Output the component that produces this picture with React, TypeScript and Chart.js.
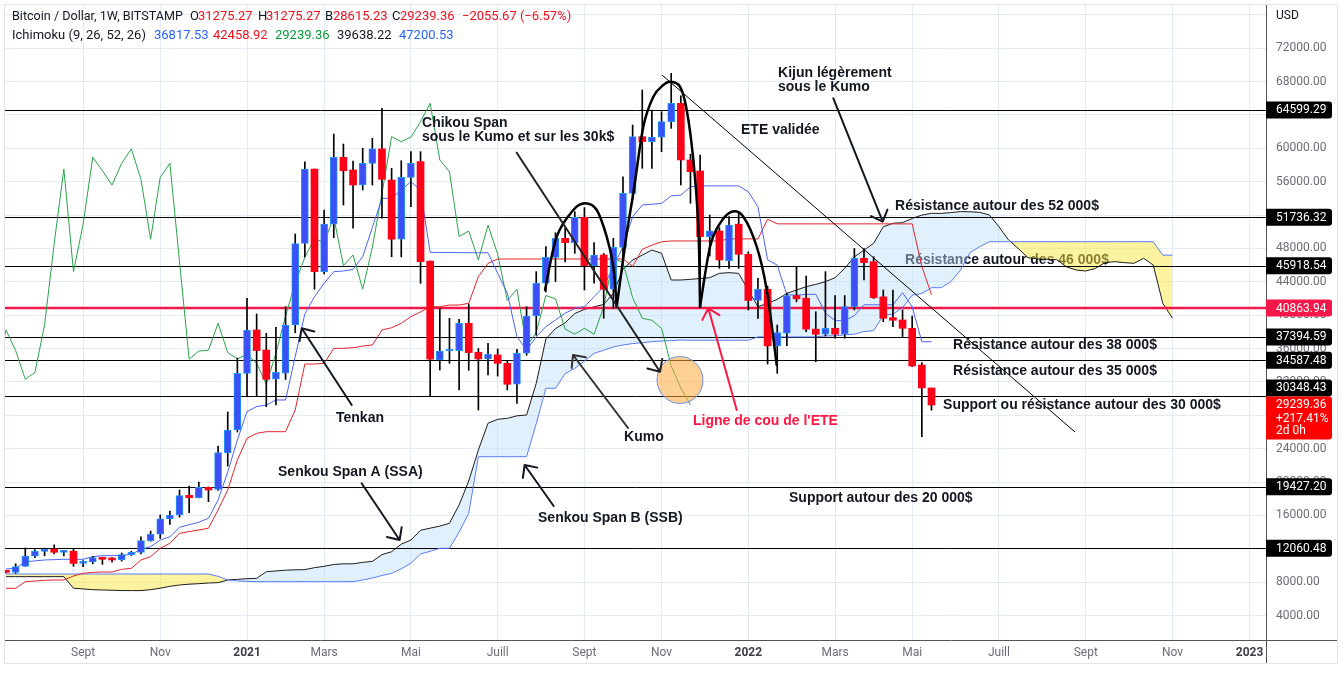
import React, { useEffect, useRef } from "react";
import { Chart, registerables } from "chart.js";

Chart.register(...registerables);

// ---- Weekly BTC/USD candles (Bitstamp), week index 0 = 13 Jul 2020 ----
const opens = [
  9300, 9180, 9900, 11130, 11700, 11980, 11580, 11710, 10250, 10420,
  10950, 10740, 10660, 11300, 11580, 12980, 13740, 15580, 16050, 18410,
  18130, 19370, 19130, 23490, 26240, 33030, 38230, 35830, 32320, 33040,
  38830, 48600, 57530, 45220, 50910, 58930, 57410, 55610, 58210, 59940,
  56210, 49110, 56530, 58410, 46500, 34630, 35710, 35750, 39030, 35560,
  34760, 35240, 34230, 31720, 35440, 39910, 43830, 46940, 49220, 48700,
  51740, 45950, 47220, 43110, 48140, 54610, 61400, 60800, 61340, 63200,
  65400, 58610, 57290, 49420, 50100, 46540, 50910, 47300, 41760, 43110,
  36320, 37840, 42360, 42040, 38330, 37720, 38430, 37720, 41020, 46820,
  46420, 42200, 39710, 39430, 38430, 34030, 31275.27,
];
const highs = [
  9350, 10200, 12100, 11900, 12080, 12470, 11800, 12050, 10600, 11100,
  11000, 10950, 11500, 11700, 13420, 14130, 16050, 16530, 19050, 19530,
  20000, 19420, 24300, 28400, 34870, 42030, 40150, 37830, 38550, 41020,
  49740, 58400, 57530, 52610, 61720, 60520, 58490, 60010, 61210, 64800,
  57600, 58520, 59600, 59600, 46500, 40820, 39630, 39510, 41340, 36000,
  36640, 35950, 34600, 35900, 41020, 45220, 48220, 49890, 50500, 52410,
  52900, 48700, 47400, 49220, 56600, 62800, 67000, 64600, 64400, 69000,
  66300, 59300, 59200, 52010, 50500, 51810, 52410, 47600, 44420, 43500,
  38830, 42640, 45740, 44700, 40420, 45220, 42360, 42360, 48000, 48000,
  47010, 43020, 43020, 40630, 39900, 34310, 31275.27,
];
const lows = [
  9100, 9050, 9900, 10950, 11150, 11400, 11150, 9900, 9850, 10200,
  10140, 10400, 10530, 11200, 11380, 12900, 13250, 14930, 15800, 16330,
  18100, 17650, 19000, 21925, 26000, 30350, 30320, 29030, 29240, 32300,
  37900, 47000, 43120, 44950, 49300, 53210, 50420, 55010, 55610, 51620,
  47010, 47000, 53010, 43820, 30230, 33430, 34230, 31040, 33400, 28640,
  32840, 32700, 31040, 29440, 35200, 37600, 42800, 44030, 46380, 47420,
  43020, 43830, 39630, 40820, 46900, 53900, 57610, 57610, 59600, 62400,
  55610, 53420, 42000, 47100, 45620, 45600, 45620, 40630, 39630, 34150,
  33030, 36360, 41600, 38030, 34430, 37500, 37240, 37240, 40630, 44220,
  42000, 39230, 38630, 37440, 33830, 25440, 28615.23,
];
const closes = [
  9180, 9860, 11130, 11700, 11980, 11580, 11710, 10250, 10420, 10950,
  10740, 10660, 11300, 11580, 12980, 13740, 15580, 16050, 18370, 18130,
  19370, 19050, 23530, 26240, 33030, 38230, 35760, 32320, 33150, 38830,
  48600, 57530, 45220, 50910, 58930, 57320, 55610, 58210, 59940, 56290,
  49110, 56530, 58210, 46420, 34720, 35710, 35800, 39030, 35520, 34760,
  35320, 34230, 31720, 35440, 39910, 43830, 46940, 49220, 48700, 51740,
  45950, 47220, 43110, 48140, 54610, 61400, 60800, 61340, 63200, 65400,
  58610, 57200, 49420, 50100, 46620, 50810, 47300, 41760, 43110, 36320,
  37920, 42360, 41960, 38330, 37720, 38430, 37720, 41020, 46820, 46300,
  42100, 39630, 39390, 38430, 33910, 31280, 29239.36,
];

// ---- Ichimoku (9, 26, 52, 26) ----
const tenkan = [
  9580, 9660, 10450, 10550, 10660, 10700, 10740, 10740, 10740, 11060,
  11180, 11180, 11200, 11330, 11940, 12250, 13050, 13450, 14580, 14890,
  15180, 15660, 17850, 21210, 25040, 28460, 29040, 29240, 29840, 29840,
  35030, 40150, 42220, 43830, 45220, 45300, 45500, 47010, 50500, 54010,
  54010, 55010, 56000, 55010, 47540, 47520, 47520, 47500, 47490, 47490,
  47490, 45020, 42640, 37430, 35830, 37430, 38630, 39430, 40230, 40830,
  41020, 42220, 43420, 45810, 48210, 51810, 53210, 53300, 53400, 54300,
  54400, 55400, 55500, 55500, 55500, 55500, 55500, 54800, 53000, 46650,
  46000, 42450, 42400, 42500, 42500, 40250, 39350, 39350, 39950, 41250,
  41250, 41250, 41250, 42700, 41000, 36820, 36817.53,
];
const kijun = [
  7265, 7265, 8060, 8140, 8220, 8260, 8260, 8740, 9060, 9180,
  9220, 9220, 9540, 9660, 10660, 11060, 12060, 12660, 13860, 14060,
  14260, 14460, 16650, 19050, 22650, 25240, 25840, 26040, 26040, 26040,
  28640, 34150, 34150, 34230, 36030, 36030, 36100, 36300, 36430, 38230,
  38500, 39030, 39830, 40400, 41020, 41020, 41220, 41220, 41420, 44620,
  46220, 46740, 46740, 46740, 46740, 46740, 46740, 46740, 46740, 46740,
  46740, 46740, 46740, 46740, 46740, 45850, 47900, 48400, 48800, 48900,
  48900, 48900, 48900, 48900, 48900, 49150, 49150, 49150, 49150, 51500,
  50950, 50950, 50950, 50950, 50950, 50950, 50950, 50950, 50950, 50950,
  50950, 50950, 50950, 50950, 50950, 45850, 42458.92,
];
const senkouA = [
  8660, 8660, 8660, 8660, 8660, 8660, 8660, 7275, 7190, 7100,
  7060, 7030, 7000, 6990, 6990, 7100, 7275, 7500, 7660, 7760,
  7820, 7900, 7940, 8260, 8340, 8420, 8460, 9255, 9345, 9440,
  9480, 9500, 9740, 9900, 10120, 10200, 10200, 10370, 10495, 11300,
  11655, 12555, 13055, 14220, 14475, 14720, 15060, 17250, 20130, 23850,
  27050, 27520, 27640, 27940, 28040, 31830, 37150, 38400, 39100, 40200,
  40700, 41000, 41300, 42620, 45500, 46620, 47200, 47820, 47420, 44220,
  44220, 44300, 44400, 44500, 45020, 45100, 45020, 43000, 41020, 41420,
  41900, 42620, 43020, 43420, 43700, 44020, 44500, 45620, 47000, 47800,
  48620, 50600, 51020, 51100, 51600, 52000, 52220, 52200, 52300, 52420,
  52400, 52325, 52020, 50610, 49016, 48000, 46900, 46750, 46700, 46650,
  45800, 45420, 45300, 45600, 46300, 46420, 46300, 46220, 46820, 46020,
  41400, 39638.22,
];
const senkouB = [
  8980, 8980, 8980, 8980, 8980, 8980, 8980, 8980, 8980, 8980,
  8980, 8980, 8980, 8980, 8980, 8980, 8980, 8980, 8980, 8980,
  8980, 8980, 8700, 8260, 8150, 8100, 8060, 8060, 8060, 8060,
  8060, 8060, 8060, 8060, 8060, 8060, 8060, 8260, 8500, 8800,
  9060, 9600, 10260, 11375, 11700, 12060, 12060, 14000, 16260, 23040,
  23040, 23040, 23040, 23040, 23040, 27000, 31240, 31240, 33000, 33640,
  34500, 35440, 35800, 36200, 36430, 36600, 36700, 36830, 36900, 36950,
  37030, 37000, 37000, 37000, 37000, 37000, 37000, 37000, 37400, 37400,
  37400, 37400, 37400, 37400, 37400, 37520, 37520, 37650, 37720, 38050,
  38140, 39975, 40125, 40900, 42400, 42600, 43300, 43300, 44000, 45400,
  47500, 48210, 48810, 48810, 48810, 48810, 48810, 48810, 48810, 48810,
  48810, 48810, 48810, 48810, 48810, 48810, 48810, 48810, 48810, 48810,
  47200, 47200,
];
const chikouShift = 25;

// ---- axes ----
const monthTicks = [8, 16, 25, 33, 42, 51, 60, 68, 77, 86, 94, 103, 112, 121, 129];
const monthLabels = ["Sept", "Nov", "2021", "Mars", "Mai", "Juill", "Sept", "Nov", "2022", "Mars", "Mai", "Juill", "Sept", "Nov", "2023"];
const yearLabels = ["2021", "2022", "2023"];
const priceTicks = [4000, 8000, 12000, 16000, 20000, 24000, 28000, 32000, 36000, 40000, 44000, 48000, 52000, 56000, 60000, 64000, 68000, 72000, 76000];

// ---- drawn levels ----
const levels = [64599.29, 51736.32, 45918.54, 37394.59, 34587.48, 30348.43, 19427.2, 12060.48];
const neckLevel = 40863.94;
const lastClose = 29239.36;

// maps a point of the reference picture to (week index, price)
const R = (x: number, y: number): [number, number] => [(x - 6) / 9.64, 64599.29 + (110 - y) * 119.87];

const notes: { t: string; at: [number, number]; c?: string }[] = [
  { t: "Chikou Span", at: R(422, 123) },
  { t: "sous le Kumo et sur les 30k$", at: R(422, 137.5) },
  { t: "Kijun légèrement", at: R(778, 73) },
  { t: "sous le Kumo", at: R(778, 87) },
  { t: "ETE validée", at: R(741, 130) },
  { t: "Résistance autour des 52 000$", at: R(895, 206) },
  { t: "Résistance autour des 38 000$", at: R(953, 345) },
  { t: "Résistance autour des 35 000$", at: R(953, 371) },
  { t: "Support ou résistance autour des 30 000$", at: R(943, 405) },
  { t: "Support autour des 20 000$", at: R(789, 498) },
  { t: "Tenkan", at: R(336, 418) },
  { t: "Kumo", at: R(624, 437) },
  { t: "Ligne de cou de l'ETE", at: R(693, 421), c: "#ff1744" },
  { t: "Senkou Span A (SSA)", at: R(278, 472) },
  { t: "Senkou Span B (SSB)", at: R(538, 518) },
];
const underNote = { t: "Résistance autour des 46 000$", at: R(905, 260) };

const arrows: { a: [number, number]; b: [number, number]; c: string }[] = [
  { a: R(351.7, 405), b: R(301.7, 328.3), c: "#131722" },
  { a: R(516.7, 152.7), b: R(660, 371.7), c: "#222222" },
  { a: R(628, 428), b: R(573, 355), c: "#333333" },
  { a: R(736.7, 410), b: R(708.3, 308.3), c: "#ff1744" },
  { a: R(833.3, 98.3), b: R(882.7, 221.7), c: "#131722" },
  { a: R(361.6, 483.3), b: R(399.6, 540), c: "#131722" },
  { a: R(553.6, 506), b: R(524.6, 465), c: "#131722" },
];
const trend = [R(662, 75), R(1075, 432)];
const ellipseCenter = R(680, 380);
const eteParts = [
  [R(545, 290), R(556.7, 236.7), R(573.3, 210), R(585, 203.3), R(596.7, 210), R(606.7, 236.7), R(613.3, 266.7), R(616.7, 306.7)],
  [R(616.7, 306.7), R(626.7, 233.3), R(633.3, 193.3), R(643.3, 126.7), R(653.3, 96.7), R(663.3, 85), R(670, 81.7), R(680, 86.7), R(686.7, 110), R(693.3, 160), R(698.3, 226.7), R(700, 306.7)],
  [R(700, 306.7), R(710, 246.7), R(720, 223.3), R(731.7, 211.7), R(743.3, 216.7), R(756.7, 246.7), R(766.7, 290), R(776.7, 365)],
];

const header1: [string, string, number][] = [
  ["Bitcoin / Dollar, 1W, BITSTAMP", "#131722", 12],
  ["O", "#131722", 190], ["31275.27", "#f0101e", 198],
  ["H", "#131722", 258], ["31275.27", "#f0101e", 266],
  ["B", "#131722", 325], ["28615.23", "#f0101e", 333],
  ["C", "#131722", 392], ["29239.36", "#f0101e", 400],
  ["\u22122055.67 (\u22126.57%)", "#f0101e", 462],
];
const header2: [string, string, number][] = [
  ["Ichimoku (9, 26, 52, 26)", "#131722", 12],
  ["36817.53", "#2962ff", 154], ["42458.92", "#f0101e", 213],
  ["29239.36", "#089b3a", 275], ["39638.22", "#131722", 337],
  ["47200.53", "#2962ff", 399],
];

const FONT = "Roboto, 'Noto Sans', sans-serif";
const NOTE_FONT = "bold 14px 'Liberation Sans', Arial, sans-serif";

function smoothPath(ctx: CanvasRenderingContext2D, p: number[][]) {
  ctx.moveTo(p[0][0], p[0][1]);
  for (let i = 0; i < p.length - 1; i++) {
    const p0 = p[Math.max(i - 1, 0)], p1 = p[i], p2 = p[i + 1], p3 = p[Math.min(i + 2, p.length - 1)];
    ctx.bezierCurveTo(
      p1[0] + (p2[0] - p0[0]) / 6, p1[1] + (p2[1] - p0[1]) / 6,
      p2[0] - (p3[0] - p1[0]) / 6, p2[1] - (p3[1] - p1[1]) / 6,
      p2[0], p2[1]
    );
  }
}

function fitText(ctx: CanvasRenderingContext2D, text: string, size: number, maxW: number) {
  ctx.font = `${size}px ${FONT}`;
  const w = ctx.measureText(text).width;
  if (w > maxW) ctx.font = `${(size * maxW) / w}px ${FONT}`;
}

const decoPlugin = {
  id: "deco",
  beforeDatasetsDraw(chart: any) {
    const ctx = chart.ctx, xs = chart.scales.x, ys = chart.scales.y;
    ctx.save();
    ctx.font = NOTE_FONT;
    ctx.fillStyle = "#131722";
    ctx.textBaseline = "middle";
    ctx.fillText(underNote.t, xs.getPixelForValue(underNote.at[0]), ys.getPixelForValue(underNote.at[1]));
    ctx.restore();
  },
  afterDatasetDraw(chart: any, args: any) {
    if (args.index !== 0) return;
    const ctx = chart.ctx, ys = chart.scales.y, area = chart.chartArea;
    ctx.save();
    ctx.strokeStyle = "#000";
    ctx.lineWidth = 1;
    levels.forEach((v) => {
      const y = Math.round(ys.getPixelForValue(v)) + 0.5;
      ctx.beginPath(); ctx.moveTo(area.left, y); ctx.lineTo(area.right, y); ctx.stroke();
    });
    ctx.strokeStyle = "#f5174a";
    ctx.lineWidth = 2.5;
    const yr = ys.getPixelForValue(neckLevel);
    ctx.beginPath(); ctx.moveTo(area.left, yr); ctx.lineTo(area.right, yr); ctx.stroke();
    ctx.restore();
  },
  afterDatasetsDraw(chart: any) {
    const ctx = chart.ctx, xs = chart.scales.x, ys = chart.scales.y;
    const P = (d: [number, number]) => [xs.getPixelForValue(d[0]), ys.getPixelForValue(d[1])];
    ctx.save();
    const t0 = P(trend[0]), t1 = P(trend[1]);
    ctx.strokeStyle = "#000"; ctx.lineWidth = 1;
    ctx.beginPath(); ctx.moveTo(t0[0], t0[1]); ctx.lineTo(t1[0], t1[1]); ctx.stroke();
    ctx.strokeStyle = "#000"; ctx.lineWidth = 2.5; ctx.lineJoin = "round"; ctx.lineCap = "round";
    eteParts.forEach((part) => {
      ctx.beginPath(); smoothPath(ctx, part.map(P)); ctx.stroke();
    });
    const ec = P(ellipseCenter);
    ctx.beginPath(); ctx.ellipse(ec[0], ec[1], 23, 23.5, -0.25, 0, Math.PI * 2);
    ctx.fillStyle = "rgba(255,170,60,0.55)"; ctx.fill();
    ctx.strokeStyle = "#6d8ee6"; ctx.lineWidth = 1; ctx.stroke();
    arrows.forEach((ar) => {
      const a = P(ar.a), b = P(ar.b);
      const ang = Math.atan2(b[1] - a[1], b[0] - a[0]);
      const h = 13, spread = 0.75;
      ctx.strokeStyle = ar.c; ctx.lineWidth = 2;
      ctx.beginPath(); ctx.moveTo(a[0], a[1]); ctx.lineTo(b[0], b[1]);
      ctx.moveTo(b[0] - h * Math.cos(ang - spread), b[1] - h * Math.sin(ang - spread));
      ctx.lineTo(b[0], b[1]);
      ctx.lineTo(b[0] - h * Math.cos(ang + spread), b[1] - h * Math.sin(ang + spread));
      ctx.stroke();
    });
    ctx.font = NOTE_FONT;
    ctx.textBaseline = "middle";
    notes.forEach((n) => {
      const p = P(n.at);
      ctx.fillStyle = n.c || "#131722";
      ctx.fillText(n.t, p[0], p[1]);
    });
    ctx.restore();
  },
  afterDraw(chart: any) {
    const ctx = chart.ctx, ys = chart.scales.y, area = chart.chartArea;
    ctx.save();
    ctx.strokeStyle = "#e0e3eb"; ctx.lineWidth = 1;
    ctx.strokeRect(4.5, 4.5, 1333, 659);
    ctx.strokeStyle = "#50535e";
    ctx.beginPath(); ctx.moveTo(area.right + 0.5, area.bottom); ctx.lineTo(area.right + 0.5, 663); ctx.stroke();
    ctx.beginPath(); ctx.moveTo(area.right, area.bottom + 0.5); ctx.lineTo(1337, area.bottom + 0.5); ctx.stroke();
    ctx.font = `12px ${FONT}`; ctx.fillStyle = "#131722"; ctx.textBaseline = "middle";
    ctx.fillText("USD", area.right + 10, 16);
    const yc = ys.getPixelForValue(lastClose);
    const boxTop = yc - 8.5;
    const tagH = 17, x0 = area.right, w = 66;
    const tag = (y: number, text: string, color: string) => {
      ctx.fillStyle = color;
      ctx.beginPath();
      (ctx as any).roundRect(x0, y - tagH / 2, w, tagH, [0, 3, 3, 0]);
      ctx.fill();
      ctx.fillStyle = "#fff";
      ctx.fillText(text, x0 + 10, y + 0.5);
    };
    levels.forEach((v) => {
      let y = ys.getPixelForValue(v);
      if (y + tagH / 2 > boxTop && y - tagH / 2 < boxTop + 43) y = boxTop - tagH / 2;
      tag(y, v.toFixed(2), "#000");
    });
    tag(ys.getPixelForValue(neckLevel), neckLevel.toFixed(2), "#f5174a");
    ctx.fillStyle = "#ff0000";
    ctx.beginPath();
    (ctx as any).roundRect(x0, boxTop, w, 43, [0, 3, 3, 0]);
    ctx.fill();
    ctx.fillStyle = "#fff";
    ctx.fillText(lastClose.toFixed(2), x0 + 10, yc + 0.5);
    ctx.fillText("+217.41%", x0 + 10, yc + 14);
    ctx.fillText("2d 0h", x0 + 10, yc + 26.5);
    header1.forEach(([t, c, x], i) => {
      if (i === 0) fitText(ctx, t, 13, 171); else ctx.font = `13px ${FONT}`;
      ctx.fillStyle = c; ctx.fillText(t, x, 17);
    });
    header2.forEach(([t, c, x], i) => {
      if (i === 0) fitText(ctx, t, 13, 134); else ctx.font = `13px ${FONT}`;
      ctx.fillStyle = c; ctx.fillText(t, x, 36);
    });
    ctx.restore();
  },
};

export default function App() {
  const ref = useRef<HTMLCanvasElement>(null);
  useEffect(() => {
    const canvas = ref.current;
    if (!canvas) return;
    const upFill = "#3d4ef5", upBorder = "#2196f3", downFill = "#ff0018";
    const line = (data: { x: number; y: number }[], color: string, order: number, extra: any = {}) => ({
      type: "line",
      data,
      borderColor: color,
      borderWidth: 1,
      pointRadius: 0,
      tension: 0,
      fill: false,
      order,
      ...extra,
    });
    const zeroPad = (s: any) => { s.paddingTop = 0; s.paddingBottom = 0; s.paddingLeft = 0; s.paddingRight = 0; };
    const chart = new Chart(canvas, {
      type: "line",
      data: {
        datasets: [
          line(senkouA.map((v, i) => ({ x: i, y: v })), "#1c1c1c", 20, {
            fill: { target: 1, above: "rgba(187,222,251,0.45)", below: "rgba(249,231,65,0.5)" },
          }),
          line(senkouB.map((v, i) => ({ x: i, y: v })), "#5b7cfa", 19),
          line(closes.map((v, i) => ({ x: i - chikouShift, y: v })), "#2aa34a", 18),
          line(kijun.map((v, i) => ({ x: i, y: v })), "#e3242b", 17),
          line(tenkan.map((v, i) => ({ x: i, y: v })), "#4a63f5", 16),
          {
            type: "bar",
            data: lows.map((l, i) => ({ x: i, y: [l, highs[i]] })),
            backgroundColor: "#000",
            barThickness: 1,
            grouped: false,
            order: 2,
          },
          {
            type: "bar",
            data: opens.map((o, i) => ({ x: i, y: [o, closes[i]] })),
            backgroundColor: closes.map((c, i) => (c >= opens[i] ? upFill : downFill)),
            borderColor: closes.map((c, i) => (c >= opens[i] ? upBorder : downFill)),
            borderWidth: closes.map((c, i) => (c >= opens[i] ? 1 : 0)),
            borderSkipped: false,
            barThickness: 7,
            minBarLength: 2,
            grouped: false,
            order: 1,
          },
        ] as any,
      },
      options: {
        responsive: false,
        animation: false,
        devicePixelRatio: 1,
        events: [],
        layout: { padding: { left: 5, top: 5, right: 0, bottom: 0 } },
        plugins: { legend: { display: false }, tooltip: { enabled: false } },
        scales: {
          x: {
            type: "linear",
            min: -0.104,
            max: 130.7,
            offset: false,
            afterBuildTicks: (s: any) => { s.ticks = monthTicks.map((v) => ({ value: v })); },
            afterFit: (s: any) => { s.height = 35; zeroPad(s); },
            grid: { color: "#e3ecf5", drawTicks: false, offset: false },
            border: { display: true, color: "#50535e" },
            ticks: {
              autoSkip: false,
              maxRotation: 0,
              padding: 6,
              callback: (_v: any, idx: number) => monthLabels[idx],
              font: (c: any) => ({ family: FONT, size: 12, weight: yearLabels.includes(monthLabels[c.index]) ? "bold" : "normal" }),
              color: (c: any) => (yearLabels.includes(monthLabels[c.index]) ? "#3b3e47" : "#6a6d78"),
            },
          },
          y: {
            type: "linear",
            position: "right",
            min: 1068,
            max: 77185,
            afterBuildTicks: (s: any) => { s.ticks = priceTicks.map((v) => ({ value: v })); },
            afterFit: (s: any) => { s.width = 77; zeroPad(s); },
            grid: { color: "#e3ecf5", drawTicks: false },
            border: { display: true, color: "#50535e" },
            ticks: {
              autoSkip: false,
              padding: 10,
              font: { family: FONT, size: 12 },
              color: "#6a6d78",
              callback: (v: any) => (v === 76000 ? "" : Number(v).toFixed(2)),
            },
          },
        },
      } as any,
      plugins: [decoPlugin as any],
    });
    return () => chart.destroy();
  }, []);
  return (
    <div style={{ position: "fixed", left: 0, top: 0, width: 1343, height: 675, background: "#fff" }}>
      <canvas ref={ref} width={1343} height={675} style={{ display: "block", width: 1343, height: 675 }} />
    </div>
  );
}
